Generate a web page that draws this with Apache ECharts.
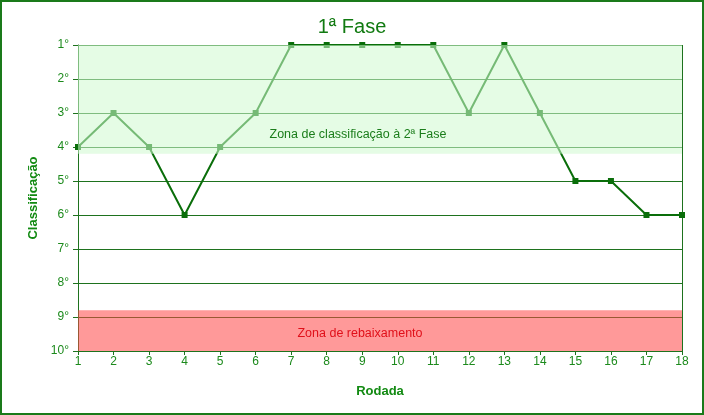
<!DOCTYPE html>
<html>
<head>
<meta charset="utf-8">
<script src="https://cdn.jsdelivr.net/npm/echarts@6/dist/echarts.min.js"></script>
<style>html,body{margin:0;padding:0;background:#fff}#c{width:704px;height:415px}</style>
</head>
<body>
<div id="c"></div>
<script>
const rounds = ['1','2','3','4','5','6','7','8','9','10','11','12','13','14','15','16','17','18'];
const positions = [4,3,4,6,4,3,1,1,1,1,1,3,1,3,5,5,6,6];
const qualifyZone = {label: 'Zona de classificação à 2ª Fase', from: 1, to: 4.2};
const relegationZone = {label: 'Zona de rebaixamento', from: 8.8, to: 10};

const dark = '#1e721e';
const txt = '#1c8a1c';
const chart = echarts.init(document.getElementById('c'));
chart.setOption({
  animation: false,
  title: {text: '1ª Fase', left: 'center', top: 12,
    textStyle: {color: '#117a11', fontSize: 20, fontWeight: 'normal', fontFamily: 'Liberation Sans'}},
  graphic: [{type: 'rect', shape: {x: 1, y: 1, width: 702, height: 413},
    style: {fill: 'none', stroke: '#1a7a1a', lineWidth: 2}, silent: true}],
  grid: {left: 78, right: 22, top: 45, bottom: 64},
  xAxis: {type: 'category', data: rounds, boundaryGap: false,
    name: 'Rodada', nameLocation: 'middle', nameGap: 34,
    nameTextStyle: {color: '#128a12', fontWeight: 'bold', fontSize: 13, fontFamily: 'Liberation Sans'},
    axisLine: {show: true, lineStyle: {color: dark, width: 1}},
    axisTick: {show: true, alignWithLabel: true, length: 4, lineStyle: {color: dark}},
    axisLabel: {color: txt, fontSize: 12, fontFamily: 'Liberation Sans', margin: 5},
    splitLine: {show: true, interval: function(i){return i === rounds.length - 1;}, lineStyle: {color: dark}}},
  yAxis: {type: 'value', inverse: true, min: 1, max: 10, interval: 1,
    name: 'Classificação', nameLocation: 'middle', nameGap: 38,
    nameTextStyle: {color: '#128a12', fontWeight: 'bold', fontSize: 13, fontFamily: 'Liberation Sans'},
    axisLine: {show: true, lineStyle: {color: dark, width: 1}},
    axisTick: {show: true, length: 5, lineStyle: {color: dark}},
    axisLabel: {color: txt, fontSize: 12, fontFamily: 'Liberation Sans', margin: 9, formatter: v => v + '°'},
    splitLine: {show: true, lineStyle: {color: dark, width: 1}}},
  series: [
    {type: 'line', data: positions, z: 2, symbol: 'rect', symbolSize: 6,
      lineStyle: {color: '#0a6e0a', width: 2}, itemStyle: {color: '#0a6e0a'}},
    {type: 'line', data: [], z: 10, silent: true,
      markArea: {silent: true, z: 20, data: [
        [{yAxis: qualifyZone.from, itemStyle: {color: 'rgba(208,250,208,0.55)'},
          label: {show: true, position: 'inside', offset: [-22, 35], formatter: qualifyZone.label,
            color: '#1b7d1b', fontSize: 12.5, fontFamily: 'Liberation Sans'}},
         {yAxis: qualifyZone.to}],
        [{yAxis: relegationZone.from, itemStyle: {color: 'rgba(255,70,70,0.55)'},
          label: {show: true, position: 'inside', offset: [-20, 3], formatter: relegationZone.label,
            color: '#e0101a', fontSize: 12.5, fontFamily: 'Liberation Sans'}},
         {yAxis: relegationZone.to}]
      ]}}
  ]
});
</script>
</body>
</html>
